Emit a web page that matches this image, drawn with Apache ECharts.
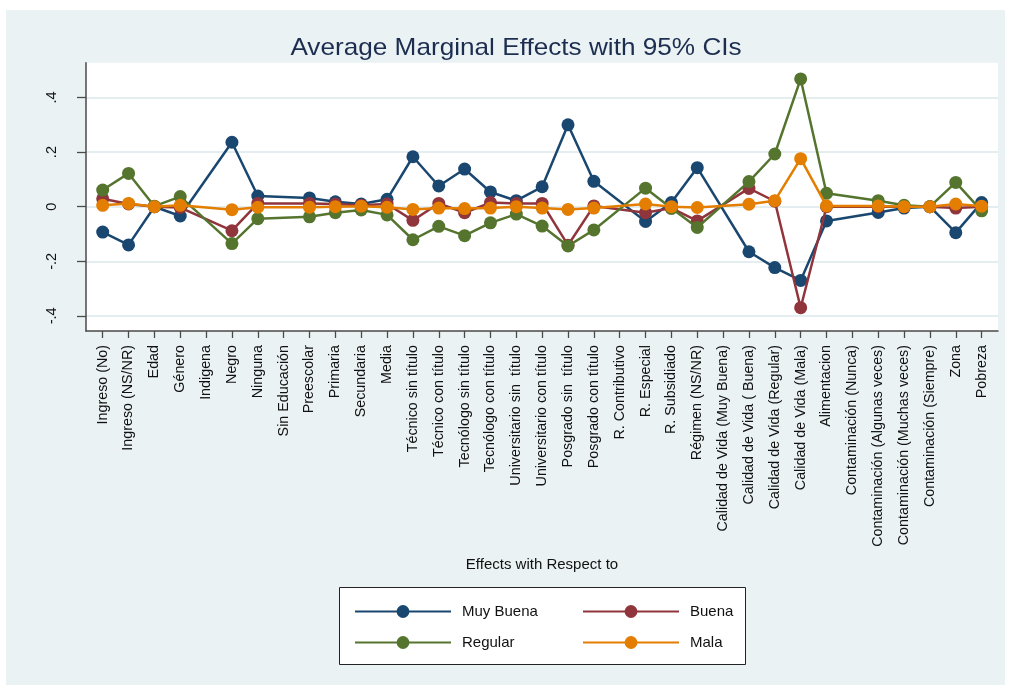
<!DOCTYPE html>
<html>
<head>
<meta charset="utf-8">
<script src="https://cdn.jsdelivr.net/npm/echarts@6/dist/echarts.min.js"></script>
<style>
  html, body { margin: 0; padding: 0; background: #fff; }
  #chart {
    width: 1011px; height: 690px;
    background: linear-gradient(#eaf2f3, #eaf2f3) no-repeat 6px 10px / 999px 675px, #fff;
  }
</style>
</head>
<body>
<div id="chart"></div>
<script>
// Regressors on the horizontal axis
const categories = [
  'Ingreso (No)', 'Ingreso (NS/NR)', 'Edad', 'Género', 'Indigena', 'Negro',
  'Ninguna', 'Sin Educación', 'Preescolar', 'Primaria', 'Secundaria', 'Media',
  'Técnico sin título', 'Técnico con título', 'Tecnólogo sin título', 'Tecnólogo con título',
  'Universitario sin  título', 'Universitario con título', 'Posgrado sin  título', 'Posgrado con título',
  'R. Contributivo', 'R. Especial', 'R. Subsidiado', 'Régimen (NS/NR)',
  'Calidad de Vida (Muy Buena)', 'Calidad de Vida ( Buena)', 'Calidad de Vida (Regular)', 'Calidad de Vida (Mala)',
  'Alimentacion', 'Contaminación (Nunca)', 'Contaminación (Algunas veces)', 'Contaminación (Muchas veces)',
  'Contaminación (Siempre)', 'Zona', 'Pobreza'
];

// Average marginal effects by outcome (null = base / omitted category)
const muyBuena = [-0.093, -0.140, 0.000, -0.034, null, 0.236, 0.039, null, 0.032, 0.018, 0.010, 0.027,
  0.183, 0.076, 0.138, 0.054, 0.022, 0.073, 0.300, 0.093, null, -0.054, 0.015, 0.143,
  null, -0.165, -0.223, -0.270, -0.052, null, -0.021, -0.005, 0.000, -0.095, 0.015];
const buena = [0.029, 0.010, 0.000, -0.003, null, -0.088, 0.012, null, 0.012, 0.010, 0.005, 0.010,
  -0.050, 0.012, -0.022, 0.015, 0.012, 0.012, -0.141, 0.003, null, -0.022, -0.005, -0.052,
  null, 0.067, 0.020, -0.370, 0.000, null, 0.000, 0.000, 0.000, -0.005, 0.000];
const regular = [0.061, 0.122, 0.002, 0.037, null, -0.135, -0.044, null, -0.037, -0.022, -0.012, -0.030,
  -0.121, -0.072, -0.106, -0.059, -0.027, -0.071, -0.144, -0.085, null, 0.068, -0.006, -0.076,
  null, 0.092, 0.193, 0.468, 0.049, null, 0.022, 0.005, 0.000, 0.089, -0.015];
const mala = [0.005, 0.012, 0.000, 0.005, null, -0.011, -0.002, null, -0.002, 0.000, 0.002, -0.002,
  -0.010, -0.005, -0.007, -0.005, 0.000, -0.005, -0.010, -0.005, null, 0.010, 0.000, -0.003,
  null, 0.009, 0.022, 0.176, 0.003, null, 0.003, 0.000, 0.000, 0.010, 0.002];

const yTicks = [-0.4, -0.2, 0, 0.2, 0.4];
const seriesNames = ['Muy Buena', 'Buena', 'Regular', 'Mala'];
const seriesValues = [muyBuena, buena, regular, mala];
const seriesColors = ['#1a476f', '#90353b', '#55752f', '#e37e00'];

const FONT = "'Liberation Sans', Arial, sans-serif";
const catIdx = categories.map((_, i) => i);

function fmtY(v) {
  if (Math.abs(v) < 1e-9) return '0';
  const s = Math.abs(v).toFixed(1).replace(/^0/, '');
  return (v < 0 ? '-' : '') + s;
}

const chart = echarts.init(document.getElementById('chart'), null, { renderer: 'canvas' });

chart.setOption({
  animation: false,
  backgroundColor: 'transparent',
  textStyle: { fontFamily: FONT },
  graphic: [
    {
      // chart title, drawn slightly widened
      type: 'text', x: 516, y: 48, scaleX: 1.09,
      style: {
        text: 'Average Marginal Effects with 95% CIs',
        x: 0, y: 0, align: 'center', verticalAlign: 'middle',
        font: "24px 'Liberation Sans', Arial, sans-serif", fill: '#1c2d50'
      }
    },
    {
      // legend frame
      type: 'rect', z: 0,
      shape: { x: 339.5, y: 587.5, width: 406, height: 77 },
      style: { fill: '#fff', stroke: '#222', lineWidth: 1 }
    }
  ],
  legend: [
    {
      data: ['Muy Buena', 'Regular'], orient: 'vertical', left: 349, top: 599,
      itemWidth: 96, itemHeight: 16, itemGap: 16, selectedMode: false,
      textStyle: { fontFamily: FONT, fontSize: 15, color: '#111', padding: [0, 0, 0, 6] }
    },
    {
      data: ['Buena', 'Mala'], orient: 'vertical', left: 577, top: 599,
      itemWidth: 96, itemHeight: 16, itemGap: 16, selectedMode: false,
      textStyle: { fontFamily: FONT, fontSize: 15, color: '#111', padding: [0, 0, 0, 6] }
    }
  ],
  grid: {
    left: 86, right: 13, top: 62.7, bottom: 359,
    show: true, backgroundColor: '#fff', borderWidth: 0
  },
  xAxis: {
    type: 'value', min: -0.646, max: 34.634,
    name: 'Effects with Respect to', nameLocation: 'middle', nameGap: 226,
    nameTextStyle: { fontFamily: FONT, fontSize: 15, color: '#111' },
    axisLine: { show: true, onZero: false, lineStyle: { color: '#4a4a4a', width: 1.5 } },
    axisTick: { show: true, length: 7, customValues: catIdx, lineStyle: { color: '#4a4a4a', width: 1.3 } },
    axisLabel: {
      customValues: catIdx, rotate: 90, margin: 14,
      fontFamily: FONT, fontSize: 14.3, color: '#111',
      formatter: v => categories[Math.round(v)]
    },
    splitLine: { show: false }
  },
  yAxis: {
    type: 'value', min: -0.4553, max: 0.5275,
    axisLine: { show: true, onZero: false, lineStyle: { color: '#4a4a4a', width: 1.5 } },
    axisTick: { show: true, length: 9, customValues: yTicks, lineStyle: { color: '#4a4a4a', width: 1.3 } },
    axisLabel: {
      customValues: yTicks, rotate: 90, margin: 27,
      fontFamily: FONT, fontSize: 14.5, color: '#111', formatter: fmtY
    },
    splitLine: { show: true, lineStyle: { color: '#e4edf0', width: 2 } }
  },
  series: seriesNames.map((name, k) => ({
    name,
    type: 'line',
    data: seriesValues[k].map((v, i) => [i, v]),
    connectNulls: true,
    symbol: 'circle',
    symbolSize: 13,
    color: seriesColors[k],
    lineStyle: { width: 2.5, color: seriesColors[k] },
    itemStyle: { color: seriesColors[k] },
    z: 2 + k
  }))
});
</script>
</body>
</html>
